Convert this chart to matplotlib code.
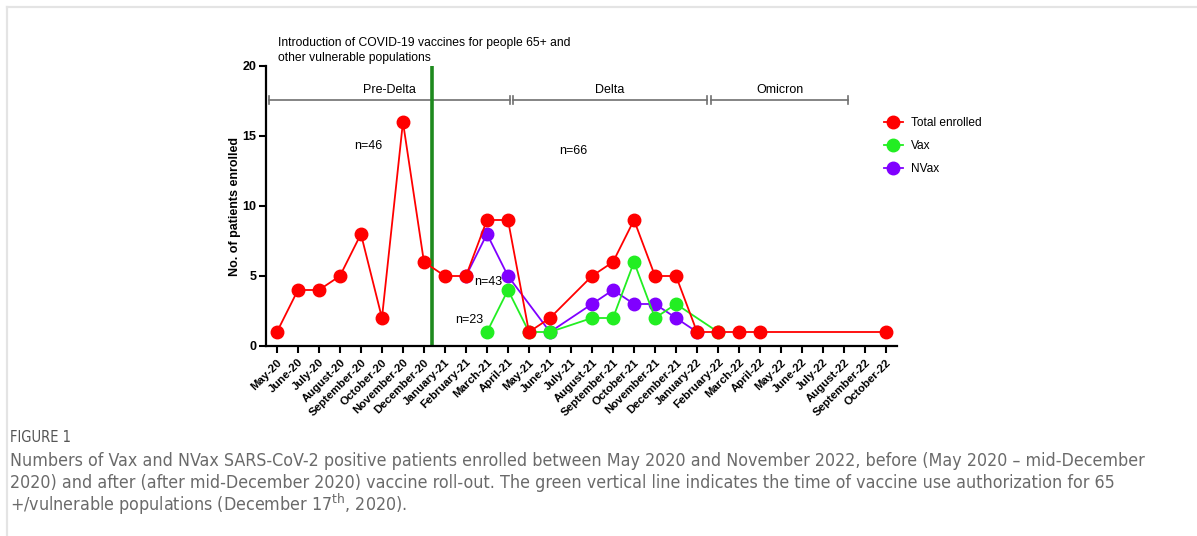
import matplotlib
matplotlib.use('Agg')
import matplotlib.pyplot as plt
import numpy as np

#==============================================================================
# data
months = ['May-20', 'June-20', 'July-20', 'August-20', 'September-20', 'October-20',
          'November-20', 'December-20', 'January-21', 'February-21', 'March-21',
          'April-21', 'May-21', 'June-21', 'July-21', 'August-21', 'September-21',
          'October-21', 'November-21', 'December-21', 'January-22', 'February-22',
          'March-22', 'April-22', 'May-22', 'June-22', 'July-22', 'August-22',
          'September-22', 'October-22']
nan = np.nan
total = [1, 4, 4, 5, 8, 2, 16, 6, 5, 5, 9, 9, 1, 2, nan, 5, 6, 9, 5, 5,
         1, 1, 1, 1, nan, nan, nan, nan, nan, 1]
vax = [nan]*10 + [1, 4, 1, 1, nan, 2, 2, 6, 2, 3, nan, 1] + [nan]*8
nvax = [nan]*9 + [5, 8, 5, nan, 1, nan, 3, 4, 3, 3, 2, 1] + [nan]*9
series_names = ['Total enrolled', 'Vax', 'NVax']
colors = ['#ff0000', '#22ee22', '#8000ff']

periods = ['Pre-Delta', 'Delta', 'Omicron']
period_start = [-0.38, 11.22, 20.67]
period_end = [11.08, 20.48, 27.19]
vaccine_date = 7.4

ncounts = ['n=46', 'n=66', 'n=43', 'n=23']
ncount_x = [4.33, 14.1, 10.05, 9.14]
ncount_y = [14.3, 13.9, 4.6, 1.85]

caption = ['Numbers of Vax and NVax SARS-CoV-2 positive patients enrolled between May 2020 and November 2022, before (May 2020 \u2013 mid-December',
           '2020) and after (after mid-December 2020) vaccine roll-out. The green vertical line indicates the time of vaccine use authorization for 65',
           '+/vulnerable populations (December 17$^{\\mathrm{th}}$, 2020).']

#==============================================================================
plt.rcParams['font.family'] = ['Liberation Sans', 'DejaVu Sans']
plt.rcParams['mathtext.fontset'] = 'custom'
plt.rcParams['mathtext.rm'] = 'DejaVu Sans'

W, H = 1197, 536
fig = plt.figure(figsize=(W/100, H/100), dpi=100)
ax = fig.add_axes([266/W, 1-346/H, (897-266)/W, (346-66)/H])

x = np.arange(len(months))
# purple below, green middle, red on top
for y, c, name, z in [(nvax, colors[2], series_names[2], 3),
                      (vax, colors[1], series_names[1], 4),
                      (total, colors[0], series_names[0], 5)]:
    y = np.array(y, dtype=float)
    m = ~np.isnan(y)
    ax.plot(x[m], y[m], '-o', color=c, lw=1.3, ms=9, zorder=z, label=name,
            clip_on=False)

ax.axvline(vaccine_date, color='#1e8a1e', lw=2.6, zorder=2)

ax.set_xlim(-0.52, 29.52)
ax.set_ylim(0, 20)
ax.set_yticks([0, 5, 10, 15, 20])
ax.set_xticks(x)
ax.set_xticklabels(months, rotation=45, ha='right', rotation_mode='anchor',
                   fontsize=8.2, fontweight='bold')
for lab in ax.get_yticklabels():
    lab.set_fontweight('bold')
    lab.set_fontsize(9)
ax.tick_params(axis='both', direction='out', length=5, width=1.5, pad=2)
ax.tick_params(axis='x', pad=3)
for s in ['top', 'right']:
    ax.spines[s].set_visible(False)
for s in ['left', 'bottom']:
    ax.spines[s].set_linewidth(1.6)
ax.set_ylabel('No. of patients enrolled', fontsize=9, fontweight='bold', labelpad=1)

# period brackets
yb = 17.57
for name, a, b in zip(periods, period_start, period_end):
    ax.plot([a, b], [yb, yb], color='#707070', lw=1.2, clip_on=False, zorder=1)
    for e in (a, b):
        ax.plot([e, e], [yb-0.3, yb+0.3], color='#707070', lw=1.2, clip_on=False, zorder=1)
    ax.text((a+b)/2, yb+0.3, name, ha='center', va='bottom', fontsize=9)

for t, tx, ty in zip(ncounts, ncount_x, ncount_y):
    ax.text(tx, ty, t, ha='center', va='center', fontsize=9)

ax.text(0.05, 20.17, 'Introduction of COVID-19 vaccines for people 65+ and\nother vulnerable populations',
        ha='left', va='bottom', fontsize=8.7, linespacing=1.3, clip_on=False)

# legend order: total, vax, nvax
h, l = ax.get_legend_handles_labels()
order = [2, 1, 0]
fig.legend([h[i] for i in order], [l[i] for i in order], loc='upper left',
           bbox_to_anchor=(879/W, 1-112/H), frameon=False, fontsize=8.6,
           handlelength=1.6, handletextpad=0.65, labelspacing=0.95, borderaxespad=0)

# page frame and caption
fig.add_artist(plt.Line2D([7/W, 1], [1-7/H, 1-7/H], color='#e4e4e4', lw=1.6))
fig.add_artist(plt.Line2D([7/W, 7/W], [0, 1-7/H], color='#e4e4e4', lw=1.6))

cap_font = ['DejaVu Sans']
fig_t = fig.text(10/W, 1-437/H, 'FIGURE 1', family=cap_font, fontstretch='condensed',
                 fontsize=9.5, color='#555555', va='center')
cap_texts = []
for i, line in enumerate(caption):
    t = fig.text(10/W, 1-(461+21.5*i)/H, line, family=cap_font, fontstretch='condensed',
                 fontsize=12, color='#6a6a6a', va='center')
    cap_texts.append(t)

# fit caption width to the reference (first line spans ~10..1137 px)
fig.canvas.draw()
r = fig.canvas.get_renderer()
scale = (1137-10) / cap_texts[0].get_window_extent(r).width
for t in cap_texts:
    t.set_fontsize(12*scale)
scale2 = (71-10) / fig_t.get_window_extent(r).width
fig_t.set_fontsize(9.5*scale2)

fig.savefig('out.png', dpi=100)
